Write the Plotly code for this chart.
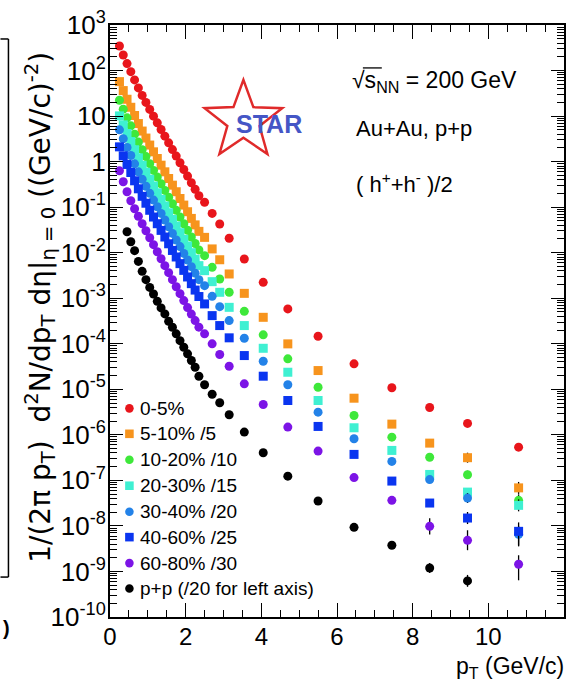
import math
import plotly.graph_objects as go

# ---------------- data ----------------
pt_auau = [0.25, 0.35, 0.45, 0.55, 0.65, 0.75, 0.85, 0.95, 1.05, 1.15, 1.25,
           1.35, 1.45, 1.55, 1.65, 1.75, 1.85, 1.95, 2.05, 2.15, 2.25, 2.35,
           2.5, 2.7, 2.9, 3.15, 3.55, 4.05, 4.7, 5.5, 6.45, 7.45, 8.45, 9.45, 10.8]
pt_pp = [0.45, 0.55, 0.65, 0.75, 0.85, 0.95, 1.05, 1.15, 1.25, 1.35, 1.45,
         1.55, 1.65, 1.75, 1.85, 1.95, 2.05, 2.15, 2.25, 2.35,
         2.5, 2.7, 2.9, 3.15, 3.55, 4.05, 4.7, 5.5, 6.45, 7.45, 8.45, 9.45]

y_0_5 = [346, 220, 142, 94.6, 62.2, 41.5, 28.4, 19.95, 14.0, 9.95, 7.10, 5.06, 3.62,
         2.58, 1.84, 1.32, 0.942, 0.671, 0.481, 0.343, 0.247, 0.178,
         0.128, 0.0728, 0.0426, 0.0208, 7.28e-3, 2.23e-3, 5.82e-4, 1.46e-4,
         3.62e-5, 1.08e-5, 3.99e-6, 1.78e-6, 5.37e-7]
y_5_10 = [57.1, 36.3, 23.4, 15.6, 10.3, 6.85, 4.69, 3.29, 2.31, 1.64, 1.17, 0.835,
          0.597, 0.426, 0.304, 0.218, 0.155, 0.111, 0.0794, 0.0566, 0.0408, 0.0294,
          0.0217, 0.0121, 7.0e-3, 3.41e-3, 1.28e-3, 3.81e-4, 9.95e-5, 2.58e-5,
          6.38e-6, 1.72e-6, 6.58e-7, 3.15e-7, 6.85e-8]
y_10_20 = [22.3, 14.2, 9.16, 6.10, 4.01, 2.68, 1.83, 1.29, 0.903, 0.642, 0.458, 0.326,
           0.233, 0.166, 0.119, 0.0851, 0.0608, 0.0433, 0.0310, 0.0221, 0.0159, 0.0115,
           8.6e-3, 4.76e-3, 2.65e-3, 1.35e-3, 5.16e-4, 1.57e-4, 4.67e-5, 1.11e-5,
           2.66e-6, 8.9e-7, 3.23e-7, 1.33e-7, 3.64e-8]
y_20_30 = [10.1, 6.42, 4.15, 2.76, 1.82, 1.21, 0.829, 0.583, 0.409, 0.291, 0.207, 0.148,
           0.106, 0.0753, 0.0537, 0.0385, 0.0275, 0.0196, 0.0140, 0.0100, 7.2e-3, 5.2e-3,
           4.03e-3, 2.31e-3, 1.35e-3, 6.31e-4, 2.51e-4, 7.96e-5, 2.37e-5, 5.68e-6,
           1.43e-6, 4.55e-7, 1.35e-7, 5.53e-8, 2.83e-8]
y_30_40 = [4.98, 3.17, 2.04, 1.36, 0.895, 0.597, 0.409, 0.287, 0.201, 0.143, 0.102, 0.0728,
           0.0521, 0.0371, 0.0265, 0.0190, 0.0136, 9.66e-3, 6.92e-3, 4.94e-3, 3.55e-3, 2.56e-3,
           1.89e-3, 1.10e-3, 6.54e-4, 3.23e-4, 1.32e-4, 4.13e-5, 1.26e-5, 3.15e-6,
           8.2e-7, 2.61e-7, 1.04e-7, 4.09e-8, 6.55e-9]
y_40_60 = [2.11, 1.34, 0.866, 0.577, 0.379, 0.253, 0.173, 0.122, 0.0854, 0.0607, 0.0433, 0.0309,
           0.0221, 0.0157, 0.0112, 8.05e-3, 5.75e-3, 4.09e-3, 2.93e-3, 2.09e-3, 1.51e-3, 1.09e-3,
           7.5e-4, 4.15e-4, 2.51e-4, 1.35e-4, 5.51e-5, 1.94e-5, 5.68e-6, 1.53e-6,
           3.72e-7, 9.66e-8, 3.18e-8, 1.49e-8, 7.6e-9]
y_60_80 = [0.628, 0.361, 0.218, 0.138, 0.0923, 0.0631, 0.0433, 0.0303, 0.0213, 0.0150, 0.0105,
           7.38e-3, 5.19e-3, 3.64e-3, 2.56e-3, 1.79e-3, 1.26e-3, 8.86e-4, 6.22e-4, 4.48e-4,
           3.23e-4, 2.32e-4,
           1.65e-4, 9.95e-5, 5.80e-5, 3.21e-5, 1.32e-5, 4.65e-6, 1.48e-6, 4.40e-7,
           1.15e-7, 3.64e-8, 9.8e-9, 4.83e-9, 1.44e-9]
y_pp = [0.0289, 0.0174, 0.0111, 6.44e-3, 3.89e-3, 2.56e-3, 1.73e-3, 1.24e-3, 8.55e-4,
        6.12e-4, 4.53e-4, 3.11e-4, 2.30e-4, 1.65e-4, 1.17e-4, 8.38e-5, 6.01e-5, 4.28e-5,
        3.05e-5, 1.94e-5,
        1.26e-5, 7.8e-6, 5.06e-6, 2.76e-6, 1.15e-6, 4.05e-7, 1.24e-7, 3.52e-8,
        9.3e-9, 3.76e-9, 1.19e-9, 6.2e-10]

# statistical errors (upper / lower), only visible at high pT
NZ = 22
eu_0_5 = [0] * NZ + [0] * 12 + [0.88e-7]
el_0_5 = [0] * NZ + [0] * 12 + [0.76e-7]
eu_5_10 = [0] * NZ + [0] * 10 + [1.5e-7, 0.9e-7, 2.4e-8]
el_5_10 = [0] * NZ + [0] * 10 + [1.2e-7, 0.7e-7, 1.8e-8]
eu_10_20 = [0] * NZ + [0] * 11 + [3.0e-8, 1.3e-8]
el_10_20 = [0] * NZ + [0] * 11 + [2.4e-8, 0.95e-8]
eu_20_30 = [0] * NZ + [0] * 11 + [1.2e-8, 1.0e-8]
el_20_30 = [0] * NZ + [0] * 11 + [1.0e-8, 0.74e-8]
eu_30_40 = [0] * NZ + [0] * 11 + [1.2e-8, 5.4e-9]
el_30_40 = [0] * NZ + [0] * 11 + [0.9e-8, 3.0e-9]
eu_40_60 = [0] * NZ + [0] * 11 + [0.53e-8, 2.2e-9]
el_40_60 = [0] * NZ + [0] * 11 + [0.39e-8, 3.9e-9]
eu_60_80 = [0] * NZ + [0] * 10 + [4.9e-9, 3.2e-9, 0.83e-9]
el_60_80 = [0] * NZ + [0] * 10 + [3.3e-9, 1.9e-9, 0.80e-9]
eu_pp = [0] * 20 + [0] * 10 + [0.34e-9, 2.2e-10]
el_pp = [0] * 20 + [0] * 10 + [0.27e-9, 1.6e-10]

labels = ["0-5%", "5-10% /5", "10-20% /10", "20-30% /15",
          "30-40% /20", "40-60% /25", "60-80% /30", "p+p (/20 for left axis)"]
colors = ["#e8151b", "#f7941d", "#3ee83a", "#3ff0d2", "#2382e8", "#0a35f0", "#7c14e6", "#000000"]
symbols = ["circle", "square", "circle", "square", "circle", "square", "circle", "circle"]

series = [
    (pt_auau, y_0_5, eu_0_5, el_0_5),
    (pt_auau, y_5_10, eu_5_10, el_5_10),
    (pt_auau, y_10_20, eu_10_20, el_10_20),
    (pt_auau, y_20_30, eu_20_30, el_20_30),
    (pt_auau, y_30_40, eu_30_40, el_30_40),
    (pt_auau, y_40_60, eu_40_60, el_40_60),
    (pt_auau, y_60_80, eu_60_80, el_60_80),
    (pt_pp, y_pp, eu_pp, el_pp),
]

y_tick_vals = [1e3, 1e2, 1e1, 1, 1e-1, 1e-2, 1e-3, 1e-4, 1e-5, 1e-6, 1e-7, 1e-8, 1e-9, 1e-10]
y_tick_text = ["10<sup>3</sup>", "10<sup>2</sup>", "10", "1", "10<sup>-1</sup>", "10<sup>-2</sup>",
               "10<sup>-3</sup>", "10<sup>-4</sup>", "10<sup>-5</sup>", "10<sup>-6</sup>",
               "10<sup>-7</sup>", "10<sup>-8</sup>", "10<sup>-9</sup>", "10<sup>-10</sup>"]
x_tick_vals = [0, 2, 4, 6, 8, 10, 12]

# ---------------- figure ----------------
W, H = 573, 694
ML, MR, MT, MB = 110, 7, 24, 77
PW, PH = W - ML - MR, H - MT - MB


def px(xp):
    return (xp - ML) / PW


def py(yp):
    return (MT + PH - yp) / PH


FONT = "Liberation Sans, Arial, Helvetica, sans-serif"

fig = go.Figure()
for (xs, ys, eu, el), lab, col, sym in zip(series, labels, colors, symbols):
    fig.add_trace(go.Scatter(
        x=xs, y=ys, mode="markers", name=lab,
        marker=dict(color=col, symbol=sym, size=9, line=dict(width=0)),
        error_y=dict(type="data", symmetric=False, array=eu, arrayminus=el,
                     color="black", thickness=1.3, width=0),
    ))

minor_y = [k * 10 ** e for e in range(-10, 3) for k in range(2, 10)]

fig.update_layout(
    width=W, height=H,
    margin=dict(l=ML, r=MR, t=MT, b=MB, pad=0),
    paper_bgcolor="white", plot_bgcolor="white",
    font=dict(family=FONT, color="black"),
    showlegend=False,
    xaxis=dict(range=[0, 12], showgrid=False, zeroline=False,
               showline=True, linecolor="black", linewidth=2, mirror="ticks",
               ticks="inside", ticklen=14, tickwidth=1.3, tickcolor="black",
               tickvals=x_tick_vals, ticktext=[str(v) for v in x_tick_vals],
               tickfont=dict(size=24, family=FONT), ticklabelstandoff=-3,
               minor=dict(ticks="inside", ticklen=7, tickwidth=1.3, tickcolor="black",
                          dtick=0.5, tick0=0, showgrid=False)),
    yaxis=dict(type="log", range=[-10, 3], showgrid=False, zeroline=False,
               showline=True, linecolor="black", linewidth=2, mirror="ticks",
               ticks="inside", ticklen=13, tickwidth=1.3, tickcolor="black",
               tickmode="array", tickvals=y_tick_vals, ticktext=y_tick_text,
               tickfont=dict(size=26, family=FONT), ticklabelstandoff=-3,
               minor=dict(ticks="inside", ticklen=7, tickwidth=1.1, tickcolor="black",
                          tickmode="array", tickvals=minor_y, showgrid=False)),
)

ann = []
# y-axis title
ann.append(dict(xref="paper", yref="paper", x=px(40), y=py(307), xanchor="center", yanchor="middle",
                textangle=-90, showarrow=False,
                text="1/(2\u03c0 p<sub>T</sub>)  d<sup>2</sup>N/dp<sub>T</sub> d\u03b7|<sub>\u03b7 = 0</sub> ((GeV/c)<sup>-2</sup>)",
                font=dict(size=28, family="DejaVu Sans, Liberation Sans, sans-serif")))
# x-axis title
ann.append(dict(xref="paper", yref="paper", x=px(568), y=py(668), xanchor="right", yanchor="middle",
                showarrow=False, text="p<sub>T</sub> (GeV/c)", font=dict(size=23, family=FONT)))
# info texts
ann.append(dict(xref="paper", yref="paper", x=px(351), y=py(81), xanchor="left", yanchor="middle",
                showarrow=False, text="\u221as<sub>NN</sub> = 200 GeV", font=dict(size=23, family=FONT)))
ann.append(dict(xref="paper", yref="paper", x=px(355), y=py(128), xanchor="left", yanchor="middle",
                showarrow=False, text="Au+Au, p+p", font=dict(size=22, family=FONT)))
ann.append(dict(xref="paper", yref="paper", x=px(355), y=py(182), xanchor="left", yanchor="middle",
                showarrow=False, text="( h<sup>+</sup>+h<sup>-</sup> )/2", font=dict(size=22, family=FONT)))
# STAR logo text
ann.append(dict(xref="paper", yref="paper", x=px(270), y=py(123), xanchor="center", yanchor="middle",
                showarrow=False, text="<b>STAR</b>", font=dict(size=25, family=FONT, color="#4556c6")))
# left panel remnant bracket
ann.append(dict(xref="paper", yref="paper", x=px(6), y=py(628), xanchor="center", yanchor="middle",
                showarrow=False, text="<b>)</b>", font=dict(size=20, family=FONT)))

# manual ROOT-style legend (text + marker glyph shapes)
leg_y = [408, 433.5, 459.5, 485.5, 511.5, 537, 563, 588.5]
shapes = []
for lab, col, sym, yy in zip(labels, colors, symbols, leg_y):
    ann.append(dict(xref="paper", yref="paper", x=px(138), y=py(yy), xanchor="left", yanchor="middle",
                    showarrow=False, text=lab, font=dict(size=19, family=FONT)))
    s = 4.3
    shapes.append(dict(type="circle" if sym == "circle" else "rect", xref="paper", yref="paper",
                       x0=px(129.5 - s), x1=px(129.5 + s), y0=py(yy + s), y1=py(yy - s),
                       fillcolor=col, line=dict(width=0)))
fig.update_layout(annotations=ann)

# STAR star outline (decoration)
cx, cy, R, r = 244, 120, 41, 17
pts = []
for i in range(10):
    ang = math.radians(-90 + 36 * i)
    rad = R if i % 2 == 0 else r
    pts.append((px(cx + rad * math.cos(ang)), py(cy + rad * math.sin(ang))))
path = "M " + " L ".join(f"{a:.5f},{b:.5f}" for a, b in pts) + " Z"
shapes.append(dict(type="path", xref="paper", yref="paper", path=path,
                   line=dict(color="#e02a2a", width=2.5), fillcolor="rgba(0,0,0,0)", layer="below"))
# overline of the square root
shapes.append(dict(type="line", xref="paper", yref="paper", x0=px(364), x1=px(383), y0=py(67), y1=py(67),
                   line=dict(color="black", width=1.3)))
# left-neighbour panel frame remnant
shapes.append(dict(type="line", xref="paper", yref="paper", x0=px(0), x1=px(8), y0=py(38), y1=py(38),
                   line=dict(color="black", width=1.5)))
shapes.append(dict(type="line", xref="paper", yref="paper", x0=px(8), x1=px(8), y0=py(38), y1=py(577),
                   line=dict(color="black", width=1.5)))
shapes.append(dict(type="line", xref="paper", yref="paper", x0=px(0), x1=px(8), y0=py(577), y1=py(577),
                   line=dict(color="black", width=1.5)))
fig.update_layout(shapes=shapes)

fig.write_html("out.html")
